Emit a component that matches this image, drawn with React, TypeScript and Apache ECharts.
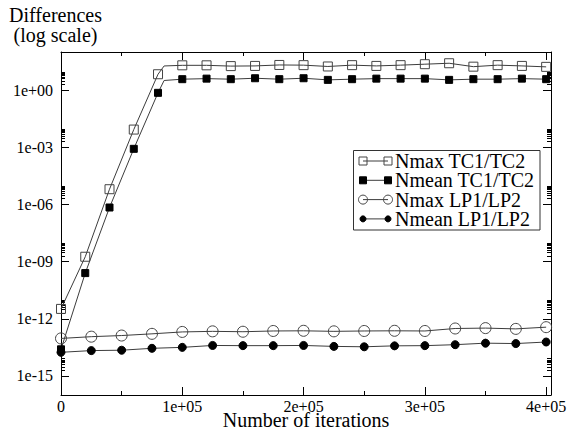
import React, { useEffect, useRef } from "react";
import * as echarts from "echarts";

// ---- data ----
const tcIterations = [
  0, 20000, 40000, 60000, 80000, 85000, 100000, 120000, 140000, 160000, 180000,
  200000, 220000, 240000, 260000, 280000, 300000, 320000, 340000, 360000, 380000, 400000,
];
// points of the TC curves that carry no marker (end of the ramp)
const tcUnmarked = [85000];
const nmaxTC = [
  3.3e-12, 1.8e-9, 6.3e-6, 8.5e-3, 6.8, 18.5, 20, 20, 18.2, 18.6, 20.9, 20.4, 17.4,
  20.4, 18.6, 20.4, 22.9, 25.7, 17, 20.4, 18.6, 16.6,
];
const nmeanTC = [
  2.5e-14, 2.5e-10, 6.9e-7, 8.3e-4, 0.72, 3.2, 3.75, 4.0, 3.75, 4.2, 3.75, 4.2, 3.45,
  3.75, 4.0, 4.0, 4.0, 3.45, 3.75, 3.75, 4.0, 3.75,
];
const lpIterations = [
  0, 25000, 50000, 75000, 100000, 125000, 150000, 175000, 200000, 225000, 250000,
  275000, 300000, 325000, 350000, 375000, 400000,
];
const nmaxLP = [
  9.3e-14, 1.15e-13, 1.32e-13, 1.62e-13, 2.04e-13, 2.19e-13, 2.09e-13, 2.29e-13,
  2.34e-13, 2.19e-13, 2.29e-13, 2.34e-13, 2.29e-13, 3.09e-13, 3.24e-13, 2.95e-13, 3.63e-13,
];
const nmeanLP = [
  1.74e-14, 2.14e-14, 2.24e-14, 2.82e-14, 3.16e-14, 3.98e-14, 3.89e-14, 3.89e-14,
  3.98e-14, 3.55e-14, 3.39e-14, 3.8e-14, 3.89e-14, 4.37e-14, 5.25e-14, 5.01e-14, 6.03e-14,
];
const seriesNames = ["Nmax TC1/TC2", "Nmean TC1/TC2", "Nmax LP1/LP2", "Nmean LP1/LP2"];
const xTicks = [0, 100000, 200000, 300000, 400000];
const xMinorTicks = [50000, 150000, 250000, 350000];
const yTicks = [1e-15, 1e-12, 1e-9, 1e-6, 1e-3, 1];
const yMinorFactors = [2, 3, 4, 5, 6, 7, 8, 9];
const xName = "Number of iterations";
const yName = "Differences\n(log scale)";

// ---- styles ----
const FONT = "Liberation Serif, Times New Roman, serif";
const LINE = "#3c3c3c";
const OPEN = "#444";
const X_MAX = 404000;
const Y_MIN = 1e-16;
const Y_MAX = 1e2;

const yMinorTicks = yTicks.flatMap((t) => yMinorFactors.map((f) => +(t * f).toPrecision(3)));

function sci(v: number): string {
  if (v === 0) return "0";
  const ex = Math.floor(Math.log10(v) + 1e-9);
  const m = Math.round(v / Math.pow(10, ex));
  return `${m}e${ex < 0 ? "-" : "+"}${String(Math.abs(ex)).padStart(2, "0")}`;
}

const symbolDefs = [
  { symbol: "rect", size: 9, fill: "none", stroke: OPEN },
  { symbol: "rect", size: 7, fill: "#000", stroke: "#000" },
  { symbol: "circle", size: 11, fill: "none", stroke: OPEN },
  { symbol: "circle", size: 8, fill: "#000", stroke: "#000" },
];

export default function App() {
  const ref = useRef<HTMLDivElement>(null);
  useEffect(() => {
    if (!ref.current) return;
    const chart = echarts.init(ref.current, undefined, { renderer: "svg" });

    const tcData = (vals: number[]) =>
      tcIterations.map((x, i) =>
        tcUnmarked.includes(x) ? { value: [x, vals[i]], symbol: "none" } : { value: [x, vals[i]] }
      );
    const lpData = (vals: number[]) => lpIterations.map((x, i) => ({ value: [x, vals[i]] }));
    const datas = [tcData(nmaxTC), tcData(nmeanTC), lpData(nmaxLP), lpData(nmeanLP)];

    const axisLineStyle = { color: "#000", width: 1 };
    const baseX: any = {
      type: "value",
      min: 0,
      max: X_MAX,
      splitLine: { show: false },
      axisLine: { show: true, onZero: false, lineStyle: axisLineStyle },
    };
    const baseY: any = {
      type: "log",
      logBase: 10,
      min: Y_MIN,
      max: Y_MAX,
      splitLine: { show: false },
      minorSplitLine: { show: false },
      axisLine: { show: true, onZero: false, lineStyle: axisLineStyle },
    };
    const tick = (len: number, values: number[]) => ({
      show: true,
      inside: true,
      length: len,
      customValues: values,
      lineStyle: { color: "#000", width: 1 },
    });
    const labelStyle = { fontFamily: FONT, fontSize: 16, color: "#000", lineHeight: 14 };

    // legend built as graphic elements (line with a marker at each end)
    const legendGraphic: any[] = [
      {
        type: "rect",
        shape: { x: 353.5, y: 150.5, width: 186.5, height: 79.5 },
        style: { fill: "#fff", stroke: "#333", lineWidth: 1 },
        z: 100,
      },
    ];
    seriesNames.forEach((name, i) => {
      const cy = 161 + i * 19.3;
      const d = symbolDefs[i];
      legendGraphic.push({
        type: "line",
        shape: { x1: 363, y1: cy, x2: 388, y2: cy },
        style: { stroke: LINE, lineWidth: 1 },
        z: 101,
      });
      [363, 388].forEach((cx) => {
        const s = d.symbol === "rect" ? Math.min(d.size, 8) : d.size - 2;
        if (d.symbol === "rect") {
          legendGraphic.push({
            type: "rect",
            shape: { x: cx - s / 2, y: cy - s / 2, width: s, height: s },
            style: { fill: d.fill, stroke: d.stroke, lineWidth: 1 },
            z: 102,
          });
        } else {
          legendGraphic.push({
            type: "circle",
            shape: { cx, cy, r: s / 2 },
            style: { fill: d.fill, stroke: d.stroke, lineWidth: 1 },
            z: 102,
          });
        }
      });
      legendGraphic.push({
        type: "text",
        x: 395,
        y: cy,
        style: {
          text: name,
          fontFamily: FONT,
          fontSize: 20,
          lineHeight: 18,
          fill: "#000",
          align: "left",
          verticalAlign: "middle",
        },
        z: 103,
      });
    });

    chart.setOption({
      animation: false,
      backgroundColor: "#fff",
      grid: { left: 61, right: 16, top: 52, bottom: 39, containLabel: false, outerBoundsMode: "none" },
      xAxis: [
        {
          ...baseX,
          position: "bottom",
          axisTick: tick(8, xTicks),
          axisLabel: {
            ...labelStyle,
            customValues: xTicks,
            margin: 4,
            formatter: (v: number) => sci(v),
          },
          name: xName,
          nameLocation: "middle",
          nameGap: 18,
          nameMoveOverlap: false,
          nameTextStyle: { fontFamily: FONT, fontSize: 20, color: "#000", lineHeight: 14 },
        },
        { ...baseX, position: "top", axisTick: tick(8, xTicks), axisLabel: { show: false } },
        {
          ...baseX,
          position: "bottom",
          axisLine: { show: false, onZero: false },
          axisTick: tick(4, xMinorTicks),
          axisLabel: { show: false },
        },
        {
          ...baseX,
          position: "top",
          axisLine: { show: false, onZero: false },
          axisTick: tick(4, xMinorTicks),
          axisLabel: { show: false },
        },
      ],
      yAxis: [
        {
          ...baseY,
          position: "left",
          axisTick: tick(8, yTicks),
          axisLabel: {
            ...labelStyle,
            customValues: yTicks,
            margin: 8,
            formatter: (v: number) => sci(v),
          },
        },
        { ...baseY, position: "right", axisTick: tick(8, yTicks), axisLabel: { show: false } },
        {
          ...baseY,
          position: "left",
          axisLine: { show: false, onZero: false },
          axisTick: tick(4, yMinorTicks),
          axisLabel: { show: false },
        },
        {
          ...baseY,
          position: "right",
          axisLine: { show: false, onZero: false },
          axisTick: tick(4, yMinorTicks),
          axisLabel: { show: false },
        },
      ],
      series: seriesNames.map((name, i) => ({
        name,
        type: "line",
        xAxisIndex: 0,
        yAxisIndex: 0,
        data: datas[i],
        symbol: symbolDefs[i].symbol,
        symbolSize: symbolDefs[i].size,
        showSymbol: true,
        itemStyle: {
          color: symbolDefs[i].fill === "none" ? "rgba(0,0,0,0)" : symbolDefs[i].fill,
          borderColor: symbolDefs[i].stroke,
          borderWidth: 1,
        },
        lineStyle: { color: LINE, width: 1 },
        emphasis: { disabled: true },
        z: 3,
      })),
      graphic: [
        {
          type: "text",
          x: 55.5,
          y: 5,
          style: {
            text: yName,
            fontFamily: FONT,
            fontSize: 20,
            lineHeight: 20,
            fill: "#000",
            align: "center",
            verticalAlign: "top",
          },
        },
        ...legendGraphic,
      ],
    });
    return () => chart.dispose();
  }, []);
  return (
    <div
      ref={ref}
      style={{ position: "fixed", left: 0, top: 0, width: 567, height: 434, background: "#fff" }}
    />
  );
}
